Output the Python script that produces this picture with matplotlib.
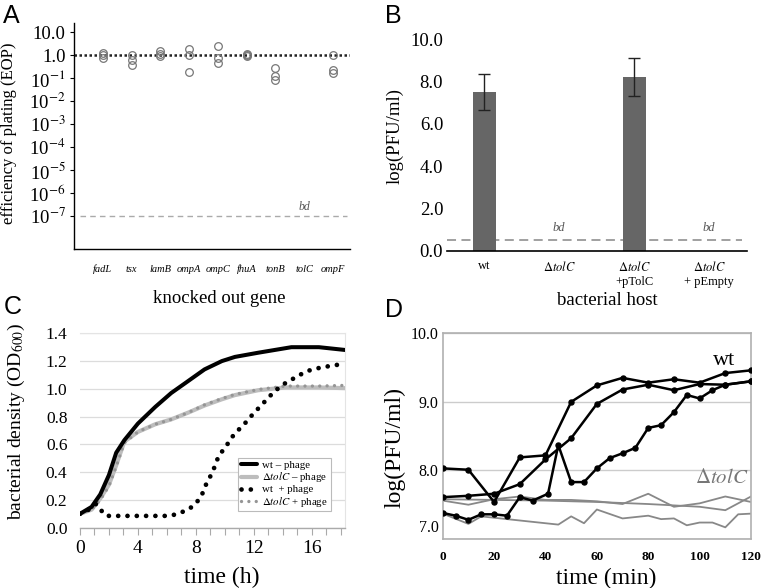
import matplotlib
matplotlib.use("Agg")
import matplotlib.pyplot as plt
from matplotlib.ticker import FixedLocator, FixedFormatter, NullLocator, MultipleLocator

plt.rcParams['font.family'] = ['Liberation Serif', 'DejaVu Serif']
plt.rcParams['mathtext.fontset'] = 'stix'

# ---------------- Panel A data ----------------
genes = ['fadL', 'tsx', 'lamB', 'ompA', 'ompC', 'fhuA', 'tonB', 'tolC', 'ompF']
eop = {
    'fadL': [1.2, 1.0, 0.8],
    'tsx': [1.0, 0.6, 0.37],
    'lamB': [1.55, 1.18, 0.9],
    'ompA': [1.95, 1.0, 0.19],
    'ompC': [2.46, 0.79, 0.48],
    'fhuA': [1.1, 1.05, 0.97],
    'tonB': [0.28, 0.12, 0.087],
    'tolC': [],
    'ompF': [1.0, 0.22, 0.17],
}
eop_yticks = [10, 1, 1e-1, 1e-2, 1e-3, 1e-4, 1e-5, 1e-6, 1e-7]
eop_ylabels = ['10.0', '1.0'] + [r'10$^{-%d}$' % k for k in range(1, 8)]
eop_bd = 1e-7

# ---------------- Panel B data ----------------
hosts = ['wt', r'$\Delta\mathit{tolC}$', r'$\Delta\mathit{tolC}$' + '\n+pTolC',
         r'$\Delta\mathit{tolC}$' + '\n+ pEmpty']
pfu_mean = [7.52, 0.0, 8.23, 0.0]
pfu_err = [0.85, 0.0, 0.9, 0.0]
pfu_bd = 0.5
bd_hosts = [1, 3]

# ---------------- Panel C data ----------------
t_wt = [0, 0.8, 1.4, 2.0, 2.5, 3.06, 4.0, 5.2, 6.3, 7.25, 8.6, 9.8, 10.7, 12.3, 14.6, 16.5, 18.3]
od_wt = [0.10, 0.15, 0.24, 0.38, 0.54, 0.63, 0.75, 0.87, 0.97, 1.04, 1.14, 1.20, 1.23, 1.26, 1.30, 1.30, 1.28]
t_tol = [0, 0.8, 1.4, 2.0, 2.5, 3.06, 4.0, 5.2, 6.3, 7.5, 8.6, 9.8, 10.7, 12.3, 14.2, 16.5, 18.3]
od_tol = [0.10, 0.13, 0.21, 0.31, 0.45, 0.62, 0.69, 0.745, 0.78, 0.83, 0.88, 0.925, 0.955, 0.99, 1.01, 1.01, 1.005]
od_tol_ph = [0.10, 0.13, 0.20, 0.30, 0.44, 0.61, 0.69, 0.745, 0.78, 0.83, 0.885, 0.93, 0.96, 0.995, 1.02, 1.02, 1.025]
t_wt_ph = [0, 0.6, 1.1, 1.35, 1.6, 2.0, 3.0, 4.0, 5.0, 6.0, 6.4, 7.0, 7.6, 8.0, 8.4, 8.6, 8.9, 9.2, 9.4,
           9.7, 10.06, 10.4, 10.8, 11.3, 11.7, 12.1, 12.5, 12.96, 13.4, 13.9, 14.3, 14.85, 15.35,
           15.9, 16.5, 17.0, 17.6, 18.2]
od_wt_ph = [0.10, 0.13, 0.17, 0.15, 0.10, 0.085, 0.085, 0.085, 0.085, 0.085, 0.09, 0.11, 0.14, 0.175,
            0.23, 0.29, 0.35, 0.41, 0.475, 0.535, 0.58, 0.64, 0.69, 0.74, 0.79, 0.835, 0.88, 0.93,
            0.98, 1.02, 1.05, 1.08, 1.11, 1.135, 1.15, 1.16, 1.17, 1.18]

# ---------------- Panel D data ----------------
tA = [0, 10, 20, 30, 40, 50, 60, 70, 80, 90, 100, 110, 120]
yA = [8.03, 8.01, 7.54, 8.19, 8.22, 9.00, 9.24, 9.35, 9.28, 9.33, 9.28, 9.42, 9.46]
tB = [0, 10, 20, 30, 40, 50, 60, 70, 80, 90, 100, 110, 120]
yB = [7.61, 7.63, 7.66, 7.80, 8.16, 8.47, 8.97, 9.18, 9.25, 9.17, 9.26, 9.25, 9.30]
tC = [0, 5, 10, 15, 20, 25, 30, 35, 41, 45, 50, 55, 60, 65, 70, 75, 80, 85, 90, 95, 100, 105, 110, 120]
yC = [7.38, 7.34, 7.28, 7.36, 7.36, 7.34, 7.61, 7.56, 7.66, 8.37, 7.83, 7.83, 8.03, 8.18, 8.25,
      8.33, 8.62, 8.66, 8.85, 9.10, 9.05, 9.17, 9.25, 9.30]
tG1 = [0, 10, 20, 30, 40, 50, 60, 70, 80, 90, 100, 110, 120]
yG1 = [7.56, 7.50, 7.58, 7.62, 7.57, 7.57, 7.55, 7.51, 7.66, 7.47, 7.52, 7.62, 7.54]
tG2 = [0, 20, 40, 60, 80, 100, 110, 120]
yG2 = [7.58, 7.57, 7.56, 7.54, 7.51, 7.47, 7.42, 7.62]
tG3 = [0, 10, 15, 45, 50, 55, 60, 70, 80, 85, 90, 95, 100, 105, 110, 115, 120]
yG3 = [7.37, 7.22, 7.33, 7.21, 7.33, 7.23, 7.43, 7.30, 7.34, 7.29, 7.30, 7.20, 7.24, 7.24, 7.17, 7.36, 7.37]
d_yticks = [7, 8, 9, 10]

W, H = 762, 588
fig = plt.figure(figsize=(W / 100, H / 100), dpi=100)


def rect(l, r, t, b):
    return [l / W, 1 - b / H, (r - l) / W, (b - t) / H]


# ================= Panel A =================
axA = fig.add_axes(rect(74, 350, 22.7, 249.3))
axA.set_yscale('log')
xs = list(range(1, len(genes) + 1))
for x, g in zip(xs, genes):
    vals = eop[g]
    if vals:
        axA.plot([x] * len(vals), vals, 'o', mfc='none', mec='#777777', mew=0.9, ms=5.5)
axA.axhline(1.0, color='#222222', lw=1.8, ls=(0, (1, 1)), zorder=1)
axA.axhline(eop_bd, xmin=0.02, xmax=0.99, color='#aaaaaa', lw=1.0, ls=(0, (4, 3)))
axA.text(8, eop_bd * 1.35, 'bd', style='italic', fontsize=8.5, color='#555555', ha='center', va='bottom')
axA.set_xlim(0, 9.6)
axA.set_ylim(10 ** -8.45, 10 ** 1.42)
axA.yaxis.set_major_locator(FixedLocator(eop_yticks))
axA.yaxis.set_major_formatter(FixedFormatter(eop_ylabels))
axA.yaxis.set_minor_locator(NullLocator())
axA.set_xticks(xs)
axA.set_xticklabels(genes, fontstyle='italic', fontsize=7.5)
axA.tick_params(axis='x', length=0, pad=11)
axA.tick_params(axis='y', length=3, width=0.8, pad=3, labelsize=13.5)
for s in ['top', 'right']:
    axA.spines[s].set_visible(False)
for s in ['left', 'bottom']:
    axA.spines[s].set_linewidth(1.0)
axA.set_ylabel('efficiency of plating (EOP)', fontsize=12)
axA.yaxis.set_label_coords(-0.2065, 0.513)
axA.set_xlabel('knocked out gene', fontsize=13.5, va='top')
axA.xaxis.set_label_coords(0.525, -0.18)

# ================= Panel B =================
axB = fig.add_axes(rect(446.7, 746.7, 39.3, 250.7))
pos = list(range(len(hosts)))
axB.bar(pos, pfu_mean, width=0.31, color='#666666', zorder=2)
for p, m, e in zip(pos, pfu_mean, pfu_err):
    if m > 0:
        axB.errorbar(p, m, yerr=e, fmt='none', ecolor='#222222', elinewidth=1.0, capsize=4, capthick=1.0, zorder=3)
axB.axhline(pfu_bd, xmin=0, xmax=0.983, color='#999999', lw=1.3, ls=(0, (5, 3)), zorder=1)
for p in bd_hosts:
    axB.text(p, 0.8, 'bd', style='italic', fontsize=9, color='#555555', ha='center', va='bottom')
axB.set_xlim(-0.5, 3.5)
axB.set_ylim(0, 10)
axB.set_yticks([0, 2, 4, 6, 8, 10])
axB.set_yticklabels(['%.1f' % v for v in [0, 2, 4, 6, 8, 10]])
axB.set_xticks(pos)
axB.set_xticklabels(hosts, fontsize=9, va='top')
axB.tick_params(axis='x', length=0, pad=7)
axB.tick_params(axis='y', length=0, pad=2.5, labelsize=13.5)
for s in ['top', 'right', 'left']:
    axB.spines[s].set_visible(False)
axB.spines['bottom'].set_linewidth(1.2)
axB.set_ylabel('log(PFU/ml)', fontsize=13.5)
axB.yaxis.set_label_coords(-0.145, 0.5435)
axB.set_xlabel('bacterial host', fontsize=13.5, va='top')
axB.xaxis.set_label_coords(0.536, -0.194)

# ================= Panel C =================
axC = fig.add_axes(rect(80, 345, 333.3, 527.7))
axC.plot(t_tol, od_tol, color='#bdbdbd', lw=3.0, solid_capstyle='round', label=r'$\Delta\mathit{tolC}$ – phage', zorder=3)
axC.plot(t_tol, od_tol_ph, color='#959595', lw=2.4, ls=(0, (0.01, 2.2)), dash_capstyle='round',
         label=r'$\Delta\mathit{tolC}$ + phage', zorder=4)
axC.plot(t_wt, od_wt, color='black', lw=2.9, solid_capstyle='round', label='wt – phage', zorder=5)
axC.plot(t_wt_ph, od_wt_ph, color='black', lw=3.4, ls=(0, (0.01, 1.96)), dash_capstyle='round',
         label='wt  + phage', zorder=6)
axC.set_xlim(0, 18.3)
axC.set_ylim(0, 1.4)
axC.set_xticks([0, 4, 8, 12, 16])
axC.xaxis.set_minor_locator(MultipleLocator(1))
axC.set_yticks([0, 0.2, 0.4, 0.6, 0.8, 1.0, 1.2, 1.4])
axC.set_yticklabels(['%.1f' % v for v in [0, 0.2, 0.4, 0.6, 0.8, 1.0, 1.2, 1.4]])
axC.grid(axis='y', color='#dcdcdc', lw=0.9)
axC.set_axisbelow(True)
axC.tick_params(axis='x', which='both', length=5, width=0.8, color='#aaaaaa', pad=4, labelsize=14)
axC.tick_params(axis='y', length=0, pad=9, labelsize=12.5)
axC.spines['left'].set_visible(False)
for s in ['top', 'right']:
    axC.spines[s].set_color('#e4e4e4')
    axC.spines[s].set_linewidth(0.8)
axC.spines['bottom'].set_color('#aaaaaa')
axC.spines['bottom'].set_linewidth(1.0)
h, l = axC.get_legend_handles_labels()
order = [2, 0, 3, 1]
leg = axC.legend([h[i] for i in order], [l[i] for i in order], loc='upper left',
                 bbox_to_anchor=(0.596, 0.3586), borderaxespad=0, fontsize=7.8,
                 handlelength=1.5, handletextpad=0.5, labelspacing=0.02, borderpad=0.25,
                 fancybox=False, framealpha=1)
leg.get_frame().set_edgecolor('#bbbbbb')
leg.get_frame().set_linewidth(0.8)
leg.set_zorder(10)
axC.set_ylabel(r'bacterial density (OD$_{600}$)', fontsize=14)
axC.yaxis.set_label_coords(-0.201, 0.545)
axC.set_xlabel('time (h)', fontsize=17, va='top')
axC.xaxis.set_label_coords(0.535, -0.2)

# ================= Panel D =================
axD = fig.add_axes(rect(442.7, 751, 333.3, 539))
for tt, yy in [(tG1, yG1), (tG2, yG2), (tG3, yG3)]:
    axD.plot(tt, yy, color='#888888', lw=1.3, zorder=2)
for tt, yy in [(tA, yA), (tB, yB), (tC, yC)]:
    axD.plot(tt, yy, color='black', lw=1.8, marker='o', ms=3.6, zorder=3)
axD.set_xlim(0, 120)
axD.set_ylim(7.0, 10.0)
axD.set_xticks([0, 20, 40, 60, 80, 100, 120])
axD.set_yticks(d_yticks)
axD.set_yticklabels([''] + ['%.1f' % v for v in d_yticks[1:]])
axD.annotate('%.1f' % d_yticks[0], xy=(0, d_yticks[0]), xycoords=('axes fraction', 'data'),
             xytext=(-3, 8), textcoords='offset points', ha='right', va='center', fontsize=11.5)
axD.grid(axis='y', color='#cccccc', lw=1.0)
axD.set_axisbelow(True)
axD.tick_params(axis='x', length=0, pad=9, labelsize=9.5)
for lab in axD.get_xticklabels():
    lab.set_fontweight('bold')
axD.tick_params(axis='y', length=0, pad=3, labelsize=11.5)
for s in axD.spines.values():
    s.set_color('#b0b0b0')
    s.set_linewidth(1.2)
axD.text(114, 9.6, 'wt', fontsize=16, ha='right', va='center')
axD.text(119, 7.88, r'$\Delta\mathit{tolC}$', fontsize=15, color='#777777', ha='right', va='center')
axD.set_ylabel('log(PFU/ml)', fontsize=17)
axD.yaxis.set_label_coords(-0.122, 0.445)
axD.set_xlabel('time (min)', fontsize=17, va='top')
axD.xaxis.set_label_coords(0.529, -0.142)

# ================= Panel letters =================
for txt, x, y in [('A', 3, 23.3), ('B', 385, 23.3), ('C', 4, 314), ('D', 385, 317)]:
    fig.text(x / W, 1 - y / H, txt, fontsize=18, family='Liberation Sans', va='baseline', ha='left')

fig.savefig('out.png', dpi=100)
